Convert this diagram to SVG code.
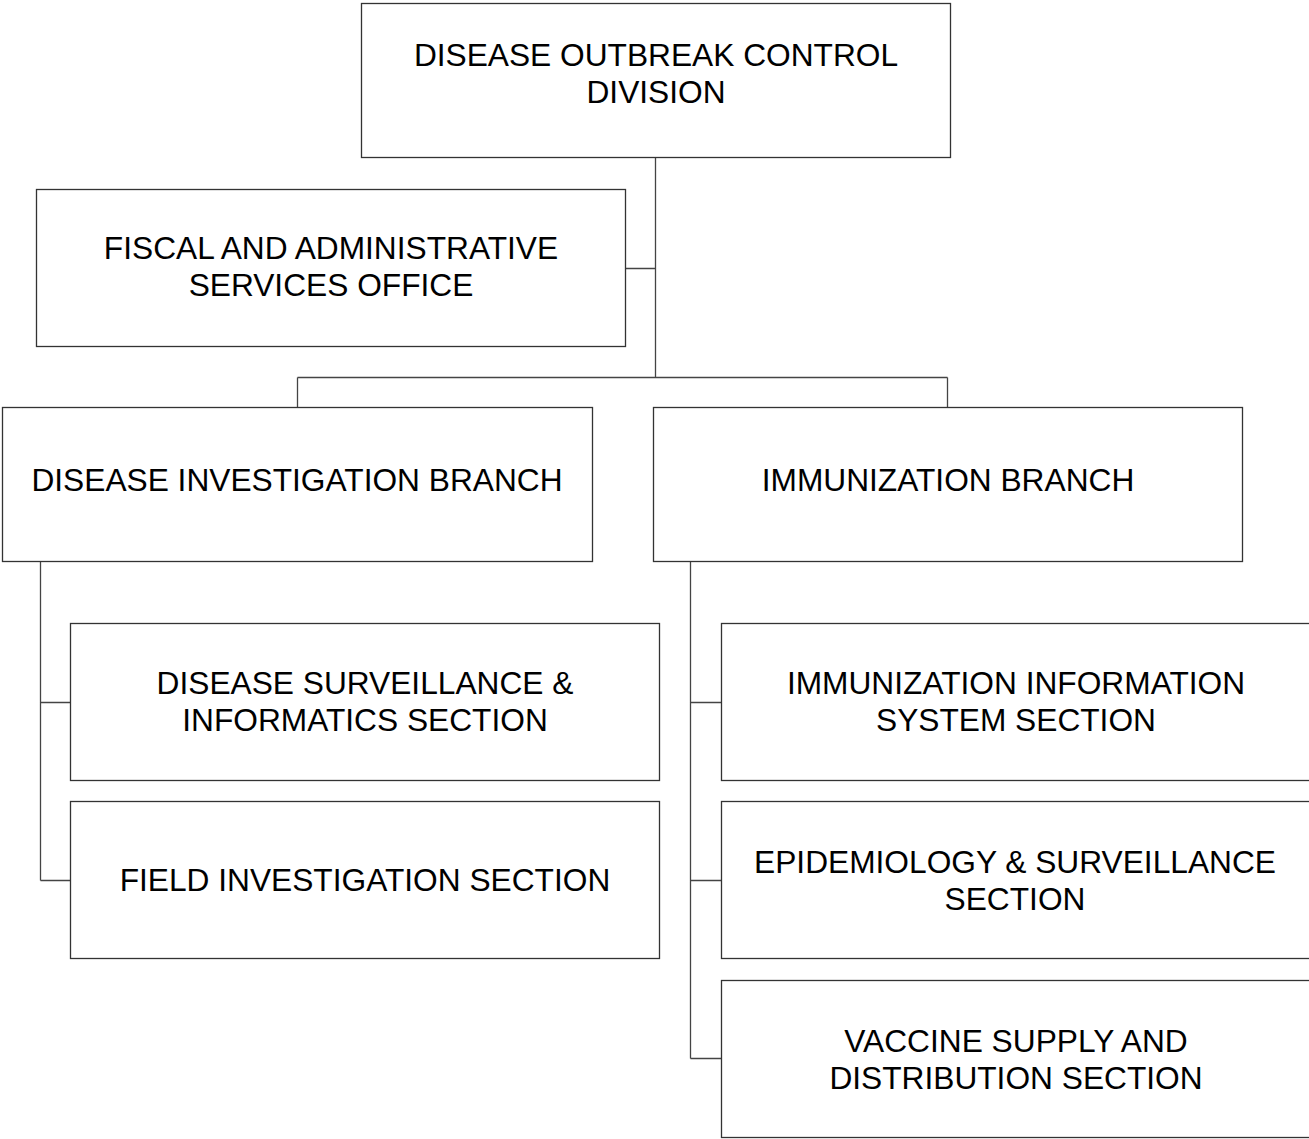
<svg xmlns="http://www.w3.org/2000/svg" width="1309" height="1139" viewBox="0 0 1309 1139">
<style>
.box{fill:#fff;stroke:#333;stroke-width:1.3}
.lbl{font-family:"Liberation Sans",Arial,sans-serif;font-size:31.7px;fill:#000;text-anchor:middle}
.con{stroke:#444;stroke-width:1.3;fill:none}
</style>
<rect width="1309" height="1139" fill="#fff"/>
<g id="connectors">
<path class="con" d="M655.5 157V377.5M625 268.5H655.5M297.5 377.5H947.5M297.5 377.5V407M947.5 377.5V407"/>
<path class="con" d="M40.5 562V880.5M40.5 702.5H70M40.5 880.5H70"/>
<path class="con" d="M690.5 562V1058.5M690.5 702.5H721M690.5 880.5H721M690.5 1058.5H721"/>
</g>
<g id="division"><rect class="box" x="361.5" y="3.5" width="589" height="154"/>
<text class="lbl" x="656" y="66">DISEASE OUTBREAK CONTROL</text><text class="lbl" x="656" y="103">DIVISION</text></g>
<g id="fiscal"><rect class="box" x="36.5" y="189.5" width="589" height="157"/>
<text class="lbl" x="331" y="259">FISCAL AND ADMINISTRATIVE</text><text class="lbl" x="331" y="296">SERVICES OFFICE</text></g>
<g id="investigation-branch"><rect class="box" x="2.5" y="407.5" width="590" height="154"/>
<text class="lbl" x="297" y="491">DISEASE INVESTIGATION BRANCH</text></g>
<g id="immunization-branch"><rect class="box" x="653.5" y="407.5" width="589" height="154"/>
<text class="lbl" x="948" y="491">IMMUNIZATION BRANCH</text></g>
<g id="surveillance-informatics"><rect class="box" x="70.5" y="623.5" width="589" height="157"/>
<text class="lbl" x="365" y="694">DISEASE SURVEILLANCE &amp;</text><text class="lbl" x="365" y="731">INFORMATICS SECTION</text></g>
<g id="field-investigation"><rect class="box" x="70.5" y="801.5" width="589" height="157"/>
<text class="lbl" x="365" y="891">FIELD INVESTIGATION SECTION</text></g>
<g id="iis"><rect class="box" x="721.5" y="623.5" width="590" height="157"/>
<text class="lbl" x="1016" y="694">IMMUNIZATION INFORMATION</text><text class="lbl" x="1016" y="731">SYSTEM SECTION</text></g>
<g id="epidemiology"><rect class="box" x="721.5" y="801.5" width="590" height="157"/>
<text class="lbl" x="1015" y="873">EPIDEMIOLOGY &amp; SURVEILLANCE</text><text class="lbl" x="1015" y="910">SECTION</text></g>
<g id="vaccine-supply"><rect class="box" x="721.5" y="980.5" width="590" height="157"/>
<text class="lbl" x="1016" y="1052">VACCINE SUPPLY AND</text><text class="lbl" x="1016" y="1089">DISTRIBUTION SECTION</text></g>
</svg>
